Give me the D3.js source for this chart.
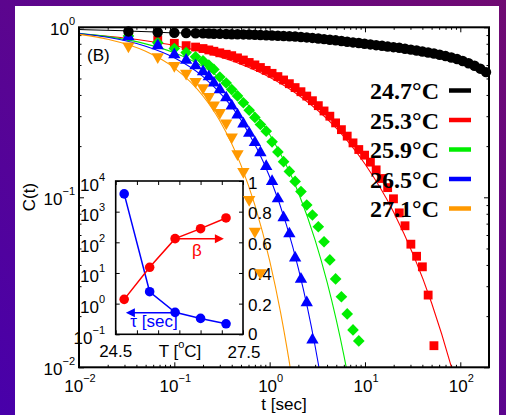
<!DOCTYPE html>
<html>
<head>
<meta charset="utf-8">
<script src="https://cdn.jsdelivr.net/npm/d3@7"></script>
<style>
  body { margin: 0; }
  svg text { font-family: "Liberation Sans", Arial, sans-serif; }
  svg text.legtext { font-family: "Liberation Serif", "Times New Roman", serif; font-weight: bold; }
</style>
</head>
<body>
<div id="chart"></div>
<script>
// ---- data ----
var times = [0.033, 0.067, 0.1, 0.133, 0.167, 0.2, 0.23, 0.26, 0.30, 0.35, 0.40, 0.46, 0.53, 0.61, 0.70,
    0.80, 0.92, 1.06, 1.22, 1.40, 1.61, 1.85, 2.13, 2.45, 2.81, 3.24, 3.72, 4.28, 4.92, 5.66, 6.51, 7.49,
    8.61, 9.9, 11.4, 13.1, 15.1, 17.3, 19.9, 22.9, 26.3, 30.3, 34.8, 40.0, 46.0, 52.9, 60.8, 70, 80.5,
    92.5, 106, 122, 141, 162, 186];

var temps = ["24.7\u00b0C", "25.3\u00b0C", "25.9\u00b0C", "26.5\u00b0C", "27.1\u00b0C"];

var c247 = [0.946, 0.935, 0.928, 0.925, 0.923, 0.921, 0.919, 0.917, 0.915, 0.913, 0.911, 0.910, 0.908,
    0.907, 0.904, 0.901, 0.898, 0.895, 0.892, 0.889, 0.886, 0.882, 0.877, 0.872, 0.866, 0.859, 0.852,
    0.845, 0.838, 0.830, 0.823, 0.815, 0.808, 0.800, 0.793, 0.785, 0.778, 0.770, 0.764, 0.757, 0.748,
    0.739, 0.730, 0.721, 0.711, 0.701, 0.690, 0.677, 0.664, 0.650, 0.634, 0.615, 0.594, 0.571, 0.545];
var c253 = [0.90, 0.842, 0.805, 0.78, 0.765, 0.75, 0.736, 0.723, 0.708, 0.694, 0.681, 0.661, 0.642, 0.621,
    0.601, 0.58, 0.558, 0.536, 0.513, 0.49, 0.466, 0.442, 0.418, 0.394, 0.37, 0.346, 0.322, 0.30, 0.274,
    0.25, 0.229, 0.209, 0.191, 0.177, 0.161, 0.145, 0.129, 0.114, 0.098, 0.081, 0.068, 0.053, 0.045,
    0.039, 0.0266, 0.0134];
var c259 = [0.89, 0.81, 0.75, 0.71, 0.67, 0.635, 0.60, 0.565, 0.51, 0.47, 0.43, 0.395, 0.36, 0.325, 0.295,
    0.268, 0.245, 0.212, 0.185, 0.162, 0.142, 0.124, 0.108, 0.0901, 0.0787, 0.0671, 0.0548, 0.0428,
    0.0331, 0.026, 0.0206, 0.0166, 0.0143];
var c265 = [0.88, 0.78, 0.69, 0.64, 0.594, 0.548, 0.512, 0.47, 0.43, 0.385, 0.345, 0.305, 0.27, 0.238,
    0.21, 0.183, 0.152, 0.124, 0.098, 0.076, 0.061, 0.044, 0.033, 0.024, 0.0145];
var c271 = [0.776, 0.671, 0.596, 0.536, 0.48, 0.44, 0.391, 0.349, 0.315, 0.273, 0.226, 0.18, 0.1415,
    0.097, 0.063, 0.036];

// stretched exponential fit curves, sampled from the figure
var fitT247 = [0.01, 0.03, 0.1, 0.3, 1, 3, 10, 30, 70, 100, 150, 200];
var fitC247 = [0.97, 0.955, 0.928, 0.915, 0.896, 0.862, 0.80, 0.74, 0.677, 0.645, 0.595, 0.545];
var fitT253 = [0.01, 0.02, 0.05, 0.1, 0.2, 0.5, 1, 2, 5, 10, 20, 50, 80, 90];
var fitC253 = [0.914, 0.885, 0.833, 0.781, 0.716, 0.607, 0.509, 0.400, 0.255, 0.157, 0.0818, 0.0239, 0.0102, 0.0080];
var fitT259 = [0.01, 0.02, 0.05, 0.1, 0.2, 0.5, 1, 2, 3, 4, 5, 6, 6.5];
var fitC259 = [0.921, 0.881, 0.799, 0.708, 0.587, 0.390, 0.234, 0.1067, 0.056, 0.0318, 0.019, 0.0118, 0.0094];
var fitT265 = [0.01, 0.02, 0.05, 0.1, 0.2, 0.5, 1, 1.5, 2, 2.5, 3, 3.3, 3.5];
var fitC265 = [0.919, 0.873, 0.774, 0.662, 0.513, 0.285, 0.132, 0.0688, 0.0382, 0.0222, 0.0133, 0.0099, 0.0082];
var fitT271 = [0.01, 0.02, 0.05, 0.1, 0.2, 0.3, 0.5, 0.7, 1, 1.3, 1.6, 1.8];
var fitC271 = [0.909, 0.851, 0.723, 0.5775, 0.3945, 0.282, 0.1547, 0.0899, 0.0424, 0.0211, 0.0109, 0.0072];

// inset: fit parameters vs temperature
var insetT = [24.7, 25.3, 25.9, 26.5, 27.1];
var tau = [3800, 2.45, 0.52, 0.33, 0.22];
var beta = [0.228, 0.437, 0.624, 0.689, 0.759];

var mainXTicks = [-2, -1, 0, 1, 2];
var mainYTicks = [-2, -1, 0];
var insetTauTicks = [-1, 0, 1, 2, 3, 4];
var insetBetaTicks = [0, 0.2, 0.4, 0.6, 0.8, 1];
var insetBetaLabels = ["0", "0.2", "0.4", "0.6", "0.8", "1"];

// ---- layout ----
var W = 506, H = 415;
var plot = {left: 79, right: 489, top: 27.3, bottom: 367.3};
var ins = {left: 115.7, right: 243, top: 181, bottom: 334.3};

var svg = d3.select("#chart").append("svg")
    .attr("width", W)
    .attr("height", H);

var defs = svg.append("defs");
var grad = defs.append("linearGradient")
    .attr("id", "bg")
    .attr("x1", 0).attr("y1", 1).attr("x2", 1).attr("y2", 0);
grad.append("stop").attr("offset", 0).attr("stop-color", "#4800aa");
grad.append("stop").attr("offset", 1).attr("stop-color", "#700a72");

defs.append("clipPath").attr("id", "plotClip")
    .append("rect")
    .attr("x", plot.left).attr("y", plot.top)
    .attr("width", plot.right - plot.left).attr("height", plot.bottom - plot.top);

svg.append("rect").attr("width", W).attr("height", H).attr("fill", "url(#bg)");
svg.append("rect").attr("x", 15).attr("y", 6).attr("width", 484).attr("height", H - 6).attr("fill", "#fff");

var x = d3.scaleLog().domain([0.01, 200]).range([plot.left, plot.right]);
var y = d3.scaleLog().domain([0.01, 1]).range([plot.bottom, plot.top]);

var ix = d3.scaleLinear().domain([24.5, 27.5]).range([ins.left, ins.right]);
var iyTau = d3.scaleLog().domain([0.1, 1e4]).range([ins.bottom, ins.top]);
var iyBeta = d3.scaleLinear().domain([0, 1]).range([ins.bottom, ins.top]);

function isDecade(v) {
    var l = Math.log10(v);
    return Math.abs(l - Math.round(l)) < 1e-6;
}

function ticksOn(g, axisFn, scale, vals, size) {
    g.call(axisFn(scale).tickValues(vals).tickSize(size).tickFormat(""));
    g.select(".domain").remove();
    g.selectAll(".tick line").attr("stroke", "#000").attr("stroke-width", 1);
}

function powLabel(sel, e, sup) {
    sel.append("tspan").text("10");
    sel.append("tspan")
        .attr("dy", -10)
        .attr("font-size", sup)
        .text(e < 0 ? "\u2212" + (-e) : e);
}

// ---- main axes ticks ----
var xMajor = x.ticks().filter(isDecade), xMinor = x.ticks().filter(function(v) { return !isDecade(v); });
var yMajor = y.ticks().filter(isDecade), yMinor = y.ticks().filter(function(v) { return !isDecade(v); });

[[xMajor, 5], [xMinor, 2.5]].forEach(function(p) {
    ticksOn(svg.append("g").attr("transform", "translate(0," + plot.bottom + ")"), d3.axisTop, x, p[0], p[1]);
    ticksOn(svg.append("g").attr("transform", "translate(0," + plot.top + ")"), d3.axisBottom, x, p[0], p[1]);
});
[[yMajor, 5], [yMinor, 2.5]].forEach(function(p) {
    ticksOn(svg.append("g").attr("transform", "translate(" + plot.left + ",0)"), d3.axisRight, y, p[0], p[1]);
    ticksOn(svg.append("g").attr("transform", "translate(" + plot.right + ",0)"), d3.axisLeft, y, p[0], p[1]);
});

svg.selectAll(".xlab")
    .data(mainXTicks)
    .enter().append("text")
    .attr("class", "xlab")
    .attr("x", function(d) { return x(Math.pow(10, d)) + 1; })
    .attr("y", 391.5)
    .attr("text-anchor", "middle")
    .attr("font-size", 17)
    .each(function(d) { powLabel(d3.select(this), d, 11); });

svg.selectAll(".ylab")
    .data(mainYTicks)
    .enter().append("text")
    .attr("class", "ylab")
    .attr("x", 75)
    .attr("y", function(d) { return y(Math.pow(10, d)) + 7.5; })
    .attr("text-anchor", "end")
    .attr("font-size", 17)
    .each(function(d) { powLabel(d3.select(this), d, 11); });

svg.append("text")
    .attr("x", 284)
    .attr("y", 410)
    .attr("text-anchor", "middle")
    .attr("font-size", 17)
    .text("t [sec]");

svg.append("text")
    .attr("transform", "translate(35,197) rotate(-90)")
    .attr("text-anchor", "middle")
    .attr("font-size", 17)
    .text("C(t)");

svg.append("text")
    .attr("x", 87)
    .attr("y", 61)
    .attr("font-size", 17)
    .text("(B)");

// ---- fit lines ----
var fits = [
    {t: fitT247, c: fitC247, color: "#000000"},
    {t: fitT253, c: fitC253, color: "#ff0000"},
    {t: fitT259, c: fitC259, color: "#00ee00"},
    {t: fitT265, c: fitC265, color: "#0000ff"},
    {t: fitT271, c: fitC271, color: "#ff9900"}
];

var fitLine = d3.line()
    .x(function(d) { return x(d[0]); })
    .y(function(d) { return y(d[1]); })
    .curve(d3.curveMonotoneX);

svg.append("g")
    .attr("clip-path", "url(#plotClip)")
    .selectAll("path")
    .data(fits)
    .enter().append("path")
    .attr("fill", "none")
    .attr("stroke", function(d) { return d.color; })
    .attr("stroke-width", 1.1)
    .attr("d", function(d) { return fitLine(d.t.map(function(t, i) { return [t, d.c[i]]; })); });

// ---- inset ----
var inset = svg.append("g");
inset.append("rect")
    .attr("x", ins.left).attr("y", ins.top)
    .attr("width", ins.right - ins.left).attr("height", ins.bottom - ins.top)
    .attr("fill", "#fff");

var insXT = d3.range(24.5, 27.51, 0.5);
ticksOn(inset.append("g").attr("transform", "translate(0," + ins.bottom + ")"), d3.axisTop, ix, insXT, 4);
ticksOn(inset.append("g").attr("transform", "translate(0," + ins.top + ")"), d3.axisBottom, ix, insXT, 4);
ticksOn(inset.append("g").attr("transform", "translate(" + ins.left + ",0)"), d3.axisRight, iyTau,
    insetTauTicks.map(function(e) { return Math.pow(10, e); }), 4);
ticksOn(inset.append("g").attr("transform", "translate(" + ins.right + ",0)"), d3.axisLeft, iyBeta, insetBetaTicks, 4);

inset.selectAll(".tlab")
    .data(insetTauTicks)
    .enter().append("text")
    .attr("class", "tlab")
    .attr("x", 105)
    .attr("y", function(d) { return iyTau(Math.pow(10, d)) + 9.5; })
    .attr("text-anchor", "end")
    .attr("font-size", 17)
    .each(function(d) { powLabel(d3.select(this), d, 11); });

inset.selectAll(".blab")
    .data(insetBetaTicks)
    .enter().append("text")
    .attr("class", "blab")
    .attr("x", 248)
    .attr("y", function(d) { return iyBeta(d) + (d === 0 ? 6 : 7.5); })
    .attr("font-size", 17)
    .text(function(d, i) { return insetBetaLabels[i]; });

inset.append("text").attr("x", ix(24.5)).attr("y", 356.5)
    .attr("text-anchor", "middle").attr("font-size", 17).text("24.5");
inset.append("text").attr("x", ix(27.5) + 1).attr("y", 357.5)
    .attr("text-anchor", "middle").attr("font-size", 17).text("27.5");
var tl = inset.append("text").attr("x", 180).attr("y", 356.5)
    .attr("text-anchor", "middle").attr("font-size", 17);
tl.append("tspan").text("T [");
tl.append("tspan").attr("dy", -9).attr("font-size", 11).text("o");
tl.append("tspan").attr("dy", 9).text("C]");

var tauLine = d3.line()
    .x(function(d, i) { return ix(insetT[i]); })
    .y(function(d) { return iyTau(d); });
var betaLine = d3.line()
    .x(function(d, i) { return ix(insetT[i]); })
    .y(function(d) { return iyBeta(d); });

inset.append("path").attr("d", tauLine(tau))
    .attr("fill", "none").attr("stroke", "#0000ff").attr("stroke-width", 1.5);
inset.append("path").attr("d", betaLine(beta))
    .attr("fill", "none").attr("stroke", "#ff0000").attr("stroke-width", 1.5);

inset.selectAll(".tauPt")
    .data(tau)
    .enter().append("circle")
    .attr("cx", function(d, i) { return ix(insetT[i]); })
    .attr("cy", function(d) { return iyTau(d); })
    .attr("r", 4.8)
    .attr("fill", "#0000ff");
inset.selectAll(".betaPt")
    .data(beta)
    .enter().append("circle")
    .attr("cx", function(d, i) { return ix(insetT[i]); })
    .attr("cy", function(d) { return iyBeta(d); })
    .attr("r", 4.8)
    .attr("fill", "#ff0000");

// arrows pointing to the axis each curve belongs to
function arrow(g, x1, x2, yy, color) {
    var dir = x2 > x1 ? 1 : -1;
    g.append("line")
        .attr("x1", x1).attr("x2", x2 - dir * 6).attr("y1", yy).attr("y2", yy)
        .attr("stroke", color).attr("stroke-width", 1.5);
    g.append("path")
        .attr("d", "M" + x2 + "," + yy + "L" + (x2 - dir * 9) + "," + (yy - 4.5) + "L" + (x2 - dir * 9) + "," + (yy + 4.5) + "Z")
        .attr("fill", color);
}
arrow(inset, ix(25.93), ix(27.05), iyBeta(beta[2]), "#ff0000");
arrow(inset, ix(25.97), ix(24.74), iyTau(0.5), "#0000ff");

inset.append("text").attr("x", 197).attr("y", 256)
    .attr("text-anchor", "middle").attr("font-size", 17).attr("fill", "#ff0000").text("\u03b2");
inset.append("text").attr("x", 154).attr("y", 326.5)
    .attr("text-anchor", "middle").attr("font-size", 17).attr("fill", "#0000ff").text("\u03c4 [sec]");

inset.append("rect")
    .attr("x", ins.left).attr("y", ins.top)
    .attr("width", ins.right - ins.left).attr("height", ins.bottom - ins.top)
    .attr("fill", "none").attr("stroke", "#000").attr("stroke-width", 1.6);

// ---- data markers ----
var series = [
    {c: c253, color: "#ff0000", shape: d3.symbolSquare, size: 78, rot: 0},
    {c: c259, color: "#00ee00", shape: d3.symbolSquare, size: 68, rot: 45},
    {c: c265, color: "#0000ff", shape: d3.symbolTriangle, size: 66, rot: 0},
    {c: c271, color: "#ff9900", shape: d3.symbolTriangle, size: 66, rot: 180},
    {c: c247, color: "#000000", shape: d3.symbolCircle, size: 86, rot: 0}
];

series.forEach(function(s) {
    var sym = d3.symbol().type(s.shape).size(s.size);
    svg.append("g")
        .selectAll("path")
        .data(s.c)
        .enter().append("path")
        .attr("d", sym)
        .attr("fill", s.color)
        .attr("transform", function(d, i) {
            return "translate(" + x(times[i]) + "," + y(d) + ") rotate(" + s.rot + ")";
        });
});

// frame
svg.append("rect")
    .attr("x", plot.left).attr("y", plot.top)
    .attr("width", plot.right - plot.left).attr("height", plot.bottom - plot.top)
    .attr("fill", "none").attr("stroke", "#000").attr("stroke-width", 2);

// ---- legend ----
var legColors = ["#000000", "#ff0000", "#00ee00", "#0000ff", "#ff9900"];
var leg = svg.selectAll(".leg")
    .data(temps)
    .enter().append("g")
    .attr("class", "leg")
    .attr("transform", function(d, i) { return "translate(0," + (99 + i * 29.5) + ")"; });
leg.append("text")
    .attr("class", "legtext")
    .attr("x", 439)
    .attr("text-anchor", "end")
    .attr("font-size", 24)
    .text(function(d) { return d; });
leg.append("line")
    .attr("x1", 449).attr("x2", 471).attr("y1", -8.5).attr("y2", -8.5)
    .attr("stroke", function(d, i) { return legColors[i]; })
    .attr("stroke-width", 4.5);
</script>
</body>
</html>
